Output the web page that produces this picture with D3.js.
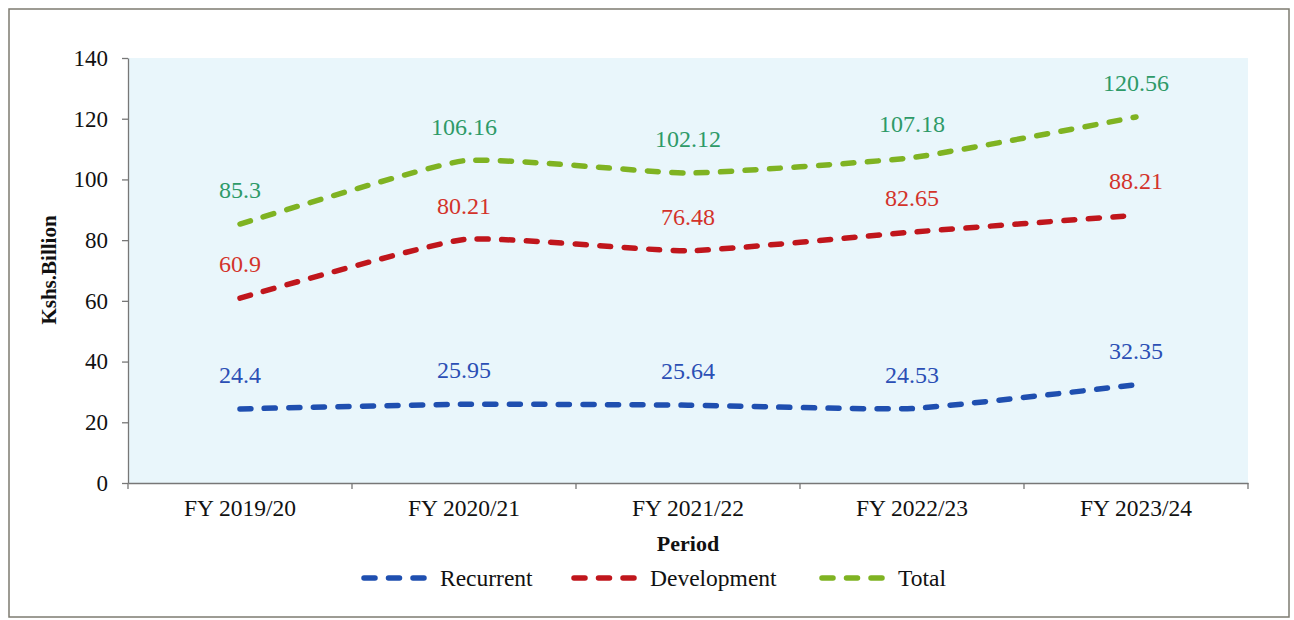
<!DOCTYPE html>
<html><head><meta charset="utf-8">
<script src="https://cdn.jsdelivr.net/npm/d3@7"></script>
<style>body{margin:0;background:#fff;}svg{display:block;}</style>
</head><body>
<svg id="chart" width="1294" height="620"></svg>
<script>
const categories = ["FY 2019/20","FY 2020/21","FY 2021/22","FY 2022/23","FY 2023/24"];
const recurrent = [24.4, 25.95, 25.64, 24.53, 32.35];
const development = [60.9, 80.21, 76.48, 82.65, 88.21];
const total = [85.3, 106.16, 102.12, 107.18, 120.56];
const yTicks = [0,20,40,60,80,100,120,140];
const seriesNames = ["Recurrent","Development","Total"];

const series = [
  {name: seriesNames[0], values: recurrent, color: "#1f4fb0", label: "#2b4fb5"},
  {name: seriesNames[1], values: development, color: "#c0161c", label: "#d3332a"},
  {name: seriesNames[2], values: total, color: "#7fb322", label: "#2e9a68"}
];

const svg = d3.select("#chart");
const font = "'Liberation Serif','Times New Roman',serif";

svg.append("rect").attr("x",9).attr("y",9).attr("width",1280).attr("height",608)
  .attr("fill","#fff").attr("stroke","#7d7b70").attr("stroke-width",1.5);

const L = 128, R = 1248, T = 58, B = 483;
const x = d3.scaleBand().domain(categories).range([L, R]);
const y = d3.scaleLinear().domain([0,140]).range([B, T]);

svg.append("rect").attr("x",L).attr("y",T).attr("width",R-L).attr("height",B-T).attr("fill","#e9f6fb");

// y axis
const yAxis = svg.append("g").attr("transform",`translate(${L},0)`)
  .call(d3.axisLeft(y).tickValues(yTicks).tickSize(6).tickPadding(14).tickSizeOuter(0));
yAxis.select(".domain").attr("stroke","#777").attr("stroke-width",1.3);
yAxis.selectAll(".tick line").attr("stroke","#777").attr("stroke-width",1.3);
yAxis.selectAll("text").attr("font-family",font).attr("font-size",23).attr("fill","#111");

// x axis
const xAxis = svg.append("g").attr("transform",`translate(0,${B})`)
  .call(d3.axisBottom(x).tickSize(0).tickPadding(16));
xAxis.select(".domain").attr("stroke","#777").attr("stroke-width",1.3);
xAxis.selectAll("text").attr("font-family",font).attr("font-size",23.5).attr("fill","#111");
const bounds = categories.map(c => x(c)).concat([R]);
xAxis.selectAll(".bt").data(bounds).enter().append("line")
  .attr("x1",d=>d).attr("x2",d=>d).attr("y1",0).attr("y2",6)
  .attr("stroke","#777").attr("stroke-width",1.3);

const cx = c => x(c) + x.bandwidth()/2;
const line = d3.line().x((d,i)=>cx(categories[i])).y(d=>y(d)).curve(d3.curveCardinal.tension(0.55));

series.forEach(s => {
  svg.append("path").datum(s.values).attr("d",line)
    .attr("fill","none").attr("stroke",s.color).attr("stroke-width",5.5)
    .attr("stroke-linecap","round").attr("stroke-dasharray","11 13.5");
  svg.selectAll(null).data(s.values).enter().append("text")
    .attr("x",(d,i)=>cx(categories[i])).attr("y",d=>y(d)-26)
    .attr("text-anchor","middle").attr("font-family",font).attr("font-size",24)
    .attr("fill",s.label).text(d=>d);
});

svg.append("text").attr("x",(L+R)/2).attr("y",551).attr("text-anchor","middle")
  .attr("font-family",font).attr("font-size",22).attr("font-weight","bold").attr("fill","#111").text("Period");
svg.append("text").attr("transform","translate(56,270) rotate(-90)").attr("text-anchor","middle")
  .attr("font-family",font).attr("font-size",21).attr("font-weight","bold").attr("fill","#111").text("Kshs.Billion");

// legend
const legX = [364, 574, 822];
series.forEach((s,i) => {
  const g = svg.append("g").attr("transform",`translate(${legX[i]},578)`);
  g.append("line").attr("x1",0).attr("x2",64).attr("y1",0).attr("y2",0)
    .attr("stroke",s.color).attr("stroke-width",5.5).attr("stroke-linecap","round").attr("stroke-dasharray","11 13.5");
  g.append("text").attr("x",76).attr("y",8).attr("font-family",font).attr("font-size",23.5).attr("fill","#111").text(s.name);
});
</script>
</body></html>
